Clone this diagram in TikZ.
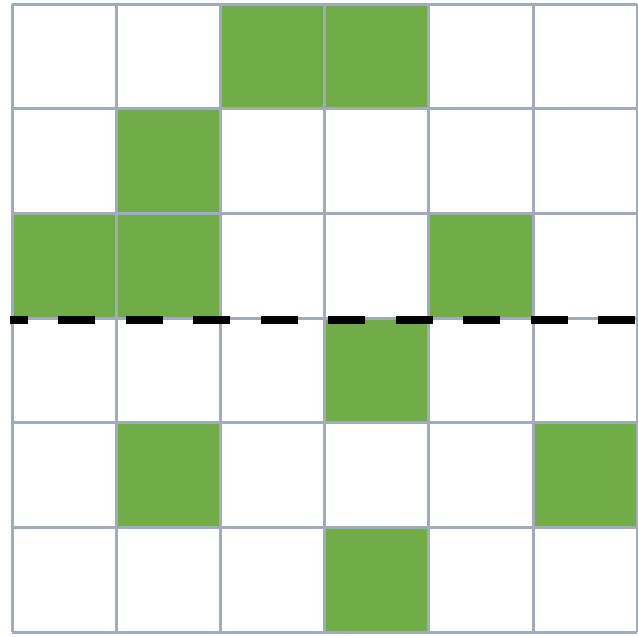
\documentclass[tikz,border=0pt]{standalone}
\usetikzlibrary{calc}
\definecolor{gridc}{HTML}{A2ABBB}
\definecolor{cellg}{HTML}{70AD47}
\tikzset{
  gridline/.style={draw=gridc, line width=3pt},
  greencell/.style={fill=cellg},
  cutline/.style={draw=black, line width=8pt, dash pattern=on 37pt off 30.5pt, dash phase=19.5pt}
}
\begin{document}
\begin{tikzpicture}[x=1pt,y=-1pt]
\useasboundingbox (0,0) rectangle (638,637);
\fill[white] (0,0) rectangle (638,637);
% green cells: {col/row}
\foreach \c/\r in {2/0,3/0,1/1,0/2,1/2,4/2,3/3,1/4,5/4,3/5}{
  \fill[greencell] ({12+\c*104.2},{4+\r*104.7}) rectangle ({12+(\c+1)*104.2},{4+(\r+1)*104.7});
}
% grid
\foreach \i in {0,...,6}{
  \draw[gridline] ({12+\i*104.2},4) -- ({12+\i*104.2},632);
  \draw[gridline] (12,{4+\i*104.7}) -- (637,{4+\i*104.7});
}
% dashed separator
\draw[cutline] (10,320) -- (638,320);
\end{tikzpicture}
\end{document}
